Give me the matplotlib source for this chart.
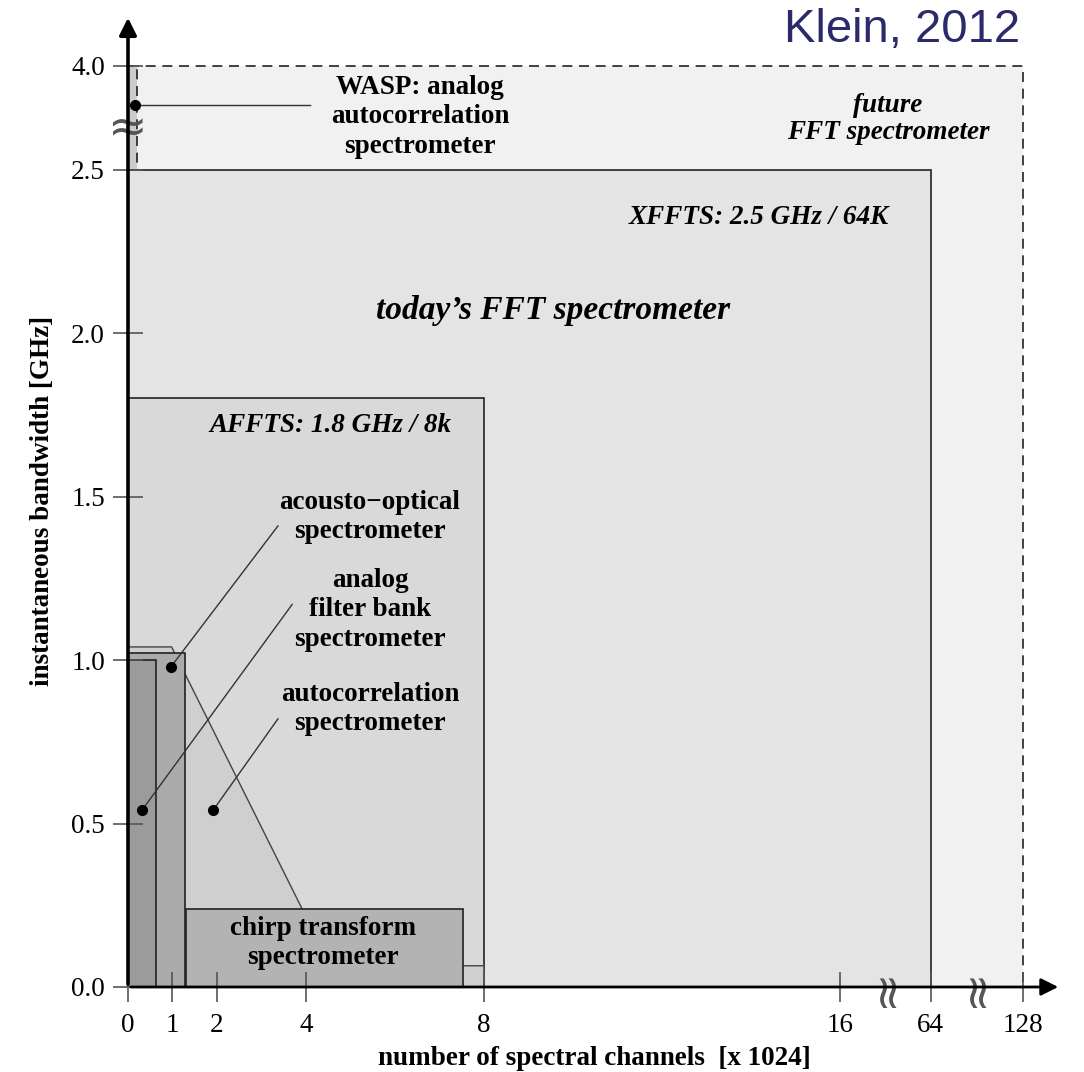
"""Spectrometer landscape: instantaneous bandwidth vs number of channels (Klein, 2012)."""

import matplotlib

matplotlib.use("Agg")

import matplotlib.pyplot as plt  # noqa: E402
import numpy as np  # noqa: E402

plt.rcParams["font.family"] = ["Liberation Serif", "DejaVu Serif"]

# broken axes: linear up to 16k / 2.5 GHz, then compressed
X_DATA = [0, 16, 64, 128, 200]
X_DRAW = [0, 16, 18.04, 20.11, 22.4]
Y_DATA = [0, 2.5, 4.0, 5.0]
Y_DRAW = [0, 2.5, 2.817, 3.03]

# rectangular regions: (name, channels from, channels to [x1024], bandwidth [GHz])
box_names = ["future", "wasp", "xffts", "affts", "acousto", "filterbank", "chirp"]
box_x0 = [0, 0, 0, 0, 0, 0, 1.3]
box_x1 = [128, 0.2, 64, 8, 1.28, 0.63, 7.52]
box_bw = [4.0, 4.0, 2.5, 1.8, 1.02, 1.0, 0.24]
box_fill = ["#f1f1f1", "#cbcbcb", "#e4e4e4", "#d9d9d9", "#ababab", "#9b9b9b", "#b3b3b3"]

# autocorrelation spectrometer region (polygon)
acs_x = [0, 0, 0.98, 4.55, 8, 8]
acs_y = [0, 1.04, 1.04, 0.065, 0.065, 0]

x_ticks = [0, 1, 2, 4, 8, 16, 64, 128]
y_ticks = [0.0, 0.5, 1.0, 1.5, 2.0, 2.5, 4.0]

# label pointers: dot position and line end
ptr_x0 = [0.16, 0.97, 0.31, 1.91]
ptr_y0 = [3.43, 0.98, 0.54, 0.54]
ptr_x1 = [4.09, 3.37, 3.69, 3.37]
ptr_y1 = [3.43, 1.41, 1.17, 0.82]


def fx(x):
    return np.interp(x, X_DATA, X_DRAW)


def fx_inv(u):
    return np.interp(u, X_DRAW, X_DATA)


def fy(y):
    return np.interp(y, Y_DATA, Y_DRAW)


def fy_inv(v):
    return np.interp(v, Y_DRAW, Y_DATA)


fig = plt.figure(figsize=(10.84, 10.72), dpi=100)
ax = fig.add_axes([128 / 1084, 85 / 1072, 933 / 1084, 972 / 1072])
ax.set_xscale("function", functions=(fx, fx_inv))
ax.set_yscale("function", functions=(fy, fy_inv))
ax.set_xlim(0, 155)
ax.set_ylim(0, 4.73)

for i, name in enumerate(box_names):
    dashed = name in ("future", "wasp")
    ax.bar(box_x0[i], box_bw[i], width=box_x1[i] - box_x0[i], align="edge",
           color=box_fill[i], edgecolor="#222222", linewidth=1.2,
           linestyle=(0, (6, 4)) if dashed else "-", zorder=1 + i * 0.1)
    if name == "affts":
        ax.fill(acs_x, acs_y, facecolor="#cfcfcf", edgecolor="#444444",
                linewidth=1.0, zorder=1.35)

for x0, y0, x1, y1 in zip(ptr_x0, ptr_y0, ptr_x1, ptr_y1):
    ax.plot([x0, x1], [y0, y1], color="#333333", lw=1.0, zorder=3)
    ax.plot(x0, y0, "o", color="black", ms=7, zorder=3.1)

bold = dict(fontsize=19.5, fontweight="bold", ha="center", va="center",
            linespacing=1.22, zorder=4)
ax.text(6.56, 3.26, "WASP: analog\nautocorrelation\nspectrometer", **bold)
ax.text(5.44, 1.437, "acousto\u2212optical\nspectrometer", **bold)
ax.text(5.44, 1.153, "analog\nfilter bank\nspectrometer", **bold)
ax.text(5.44, 0.85, "autocorrelation\nspectrometer", **bold)
ax.text(4.38, 0.135, "chirp transform\nspectrometer", **bold)

ital = dict(fontsize=19.5, fontweight="bold", style="italic", va="center", zorder=4)
ax.text(41.4, 3.23, "future\nFFT spectrometer", ha="center", linespacing=1.15, **ital)
ax.text(41.9, 2.352, "XFFTS: 2.5 GHz / 64K", ha="right", **ital)
ax.text(7.28, 1.716, "AFFTS: 1.8 GHz / 8k", ha="right", **ital)
ital["fontsize"] = 24
ax.text(9.55, 2.07, "today\u2019s FFT spectrometer", ha="center", **ital)

# axis breaks
brk = dict(fontsize=34, color="#555555", ha="center", va="center", zorder=4,
           family="DejaVu Sans")
ax.text(0, 3.07, "\u2248", **brk)
ax.text(41, 0, "\u2248", rotation=90, **brk)
ax.text(96, 0, "\u2248", rotation=90, **brk)

for side in ax.spines.values():
    side.set_visible(False)
ax.annotate("", xy=(1, 0), xytext=(0, 0), xycoords="axes fraction",
            arrowprops=dict(arrowstyle="-|>", lw=2, color="black", mutation_scale=26),
            zorder=5)
ax.annotate("", xy=(0, 1), xytext=(0, 0), xycoords="axes fraction",
            arrowprops=dict(arrowstyle="-|>", lw=2.6, color="black", mutation_scale=26),
            zorder=5)

ax.set_axisbelow(False)
ax.set_xticks(x_ticks)
ax.set_xticklabels([str(t) for t in x_ticks])
ax.set_yticks(y_ticks)
ax.set_yticklabels([f"{t:.1f}" for t in y_ticks])
ax.tick_params(direction="inout", length=21, width=1.2, color="#555555",
               labelsize=19.5)
ax.tick_params(axis="x", pad=8)
ax.tick_params(axis="y", pad=6)
ax.minorticks_off()

ax.set_xlabel("number of spectral channels  [x 1024]", fontsize=19.5,
              fontweight="bold", labelpad=6)
ax.set_ylabel("instantaneous bandwidth [GHz]", fontsize=19.5,
              fontweight="bold", labelpad=12)
fig.text(1020 / 1084, 1 - 30 / 1072, "Klein, 2012", family="Liberation Sans",
         fontsize=34, color="#2b2b6b", ha="right", va="center")

fig.savefig("out.png", dpi=100)
plt.close(fig)
